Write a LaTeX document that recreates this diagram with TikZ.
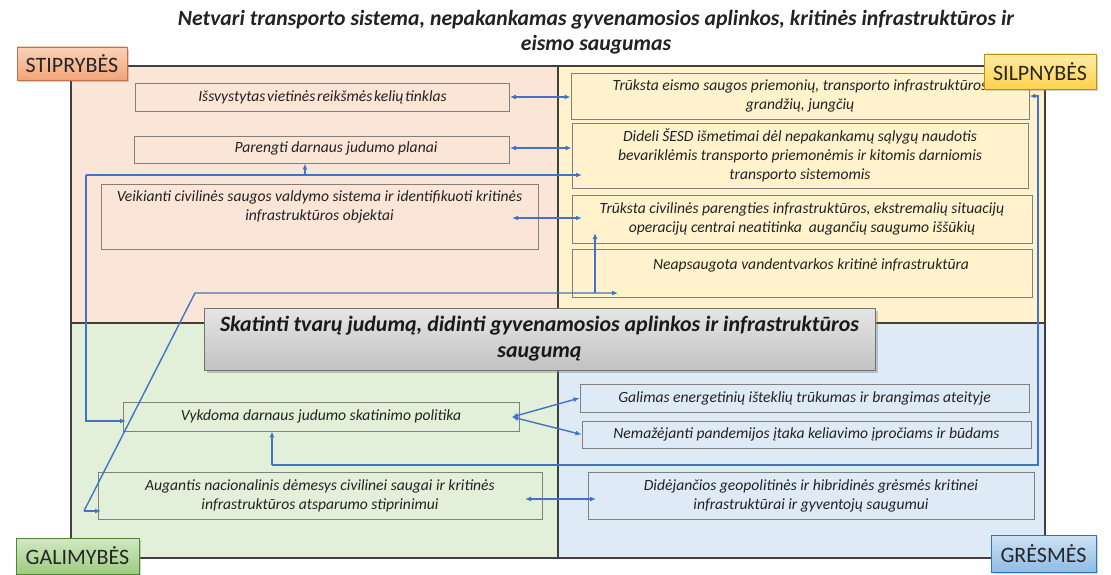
\documentclass[tikz,border=0pt]{standalone}
\usepackage{fontspec}
\setmainfont{Carlito}
\usetikzlibrary{arrows.meta,shadows,calc}
\definecolor{qTL}{HTML}{FBE5D6}
\definecolor{qTR}{HTML}{FFF2CC}
\definecolor{qBL}{HTML}{E2F0D9}
\definecolor{qBR}{HTML}{DEEBF7}
\definecolor{cblue}{HTML}{4472C4}
\definecolor{frm}{HTML}{404040}
\definecolor{boxln}{HTML}{808080}
\definecolor{txtc}{HTML}{222222}
\definecolor{sTop}{HTML}{FAD2B8}\definecolor{sBot}{HTML}{F2A477}\definecolor{sLn}{HTML}{C0704A}
\definecolor{wTop}{HTML}{FFEBA8}\definecolor{wBot}{HTML}{FFD24D}\definecolor{wLn}{HTML}{BF9000}
\definecolor{oTop}{HTML}{D2E8C4}\definecolor{oBot}{HTML}{9CCB7F}\definecolor{oLn}{HTML}{548235}
\definecolor{tTop}{HTML}{CDE2F4}\definecolor{tBot}{HTML}{8FBCE6}\definecolor{tLn}{HTML}{2E75B6}
\newcommand{\bfs}[1]{\fontsize{#1}{19}\selectfont}
\tikzset{
  bx/.style={draw=boxln, line width=0.9pt, rectangle, inner sep=0pt, align=center,
    font=\bfs{15.6}\itshape, text=txtc},
  btxt/.style={inner sep=0pt, align=center, font=\bfs{15.6}\itshape, text=txtc},
  cn/.style={draw=cblue, line width=1.4pt, -{Latex[length=6pt,width=5pt]}},
  cn2/.style={draw=cblue, line width=1.4pt, {Latex[length=6pt,width=5pt]}-{Latex[length=6pt,width=5pt]}},
  lbl/.style={rectangle, inner sep=0pt, line width=0.8pt, font=\fontsize{22}{24}\selectfont, text=black!85,
    drop shadow={shadow xshift=2pt, shadow yshift=-2pt, opacity=0.35}},
}
\begin{document}
\begin{tikzpicture}[x=1pt,y=-1pt]
\useasboundingbox (0,0) rectangle (1111,575);
% title
\node[align=center, font=\fontsize{21.7}{25}\selectfont\bfseries\itshape, text=txtc, inner sep=0pt] (title) at (596,32)
  {Netvari transporto sistema, nepakankamas gyvenamosios aplinkos, kritinės infrastruktūros ir\\ eismo saugumas};
% quadrants
\fill[qTL] (71,66) rectangle (558,323);
\fill[qTR] (558,66) rectangle (1045,323);
\fill[qBL] (71,323) rectangle (558,558);
\fill[qBR] (558,323) rectangle (1045,558);
\draw[frm, line width=1.1pt] (71,66) rectangle (1045,558);
\draw[frm, line width=1.1pt] (558,66) -- (558,558);
\draw[frm, line width=1.1pt] (71,323) -- (1045,323);
% strengths
\node[bx, minimum width=374pt, minimum height=28pt] (s1) at (322.5,97) {\spaceskip=1.8pt Išsvystytas vietinės reikšmės kelių tinklas};
\node[bx, minimum width=375pt, minimum height=27pt] (s2) at (321.5,149.5) {};
\node[btxt] (s2t) at (336,148) {Parengti darnaus judumo planai};
\node[bx, minimum width=437pt, minimum height=65pt] (s3) at (319.5,216.5) {};
\node[btxt] (s3t) at (319.5,207) {Veikianti civilinės saugos valdymo sistema ir identifikuoti kritinės\\ infrastruktūros objektai};
% weaknesses
\node[bx, minimum width=458pt, minimum height=46pt] (w1) at (800,96) {Trūksta eismo saugos priemonių, transporto infrastruktūros\\ grandžių, jungčių};
\node[bx, minimum width=456pt, minimum height=65pt] (w2) at (800,155.5) {Dideli ŠESD išmetimai dėl nepakankamų sąlygų naudotis\\ bevariklėmis transporto priemonėmis ir kitomis darniomis\\ transporto sistemomis};
\node[bx, minimum width=460pt, minimum height=48pt] (w3) at (802,219) {Trūksta civilinės parengties infrastruktūros, ekstremalių situacijų\\ operacijų centrai neatitinka\ \ augančių saugumo iššūkių};
\node[bx, minimum width=460pt, minimum height=48pt] (w4) at (802,273) {};
\node[btxt] (w4t) at (811,265) {Neapsaugota vandentvarkos kritinė infrastruktūra};
% opportunities
\node[bx, minimum width=396pt, minimum height=29pt] (o1) at (321,416.5) {Vykdoma darnaus judumo skatinimo politika};
\node[bx, minimum width=444pt, minimum height=47pt] (o2) at (320,495.5) {Augantis nacionalinis dėmesys civilinei saugai ir kritinės\\ infrastruktūros atsparumo stiprinimui};
% threats
\node[bx, minimum width=449pt, minimum height=28pt] (t1) at (804.5,398) {Galimas energetinių išteklių trūkumas ir brangimas ateityje};
\node[bx, minimum width=449pt, minimum height=27pt] (t2) at (806.5,434.5) {Nemažėjanti pandemijos įtaka keliavimo įpročiams ir būdams};
\node[bx, minimum width=446pt, minimum height=47pt] (t3) at (811,495.5) {Didėjančios geopolitinės ir hibridinės grėsmės kritinei\\ infrastruktūrai ir gyventojų saugumui};
% central goal
\node[rectangle, draw=black!55, line width=1pt, minimum width=671pt, minimum height=62pt, inner sep=0pt,
  top color=white!90!black, bottom color=black!24, align=center,
  font=\fontsize{21.9}{26}\selectfont\bfseries\itshape, text=black!90,
  drop shadow={shadow xshift=3pt, shadow yshift=-3pt, opacity=0.4}] (goal) at (539.5,339)
  {Skatinti tvarų judumą, didinti gyvenamosios aplinkos ir infrastruktūros\\ saugumą};
% connectors
\draw[cn2] (s1.east) -- (s1.east -| w1.west);
\coordinate (a2l) at (510,148);
\draw[cn2] (a2l) -- (a2l -| w2.west);
\coordinate (a3l) at (512,218);
\coordinate (a3r) at (582,218);
\draw[cn2] (a3l) -- (a3r);
% network A
\coordinate (jA) at (86,175);
\coordinate (jAs) at (305,175);
\coordinate (aA1) at (582,175);
\coordinate (aA2) at (126,421);
\draw[cn] (jA) -- (aA1);
\draw[cn] (jAs) -- (jAs |- s2.south);
\draw[cn] (jA) |- (aA2);
% network B
\coordinate (jB) at (84,511);
\coordinate (jB2) at (195,293);
\coordinate (aB1) at (618,293);
\coordinate (jB3) at (595,293);
\coordinate (aB2) at (595,233);
\coordinate (aB3) at (101,511);
\draw[cn] (jB) -- (aB3);
\draw[cn] (jB) -- (jB2) -- (aB1);
\draw[cn] (jB3) -- (aB2);
% network C
\coordinate (jC) at (272,465);
\coordinate (jC2) at (1038,465);
\draw[cn] (jC) -- (jC |- o1.south);
\draw[cn] (jC) -- (jC2) |- (w1.east);
% opportunities to threats
\coordinate (aO1) at (512,417);
\draw[cn2] (aO1) -- (t1.west);
\draw[cn2] (aO1) -- (t2.west);
\coordinate (aO2l) at (525,499);
\coordinate (aO2r) at (596,499);
\draw[cn2] (aO2l) -- (aO2r);
% labels
\node[lbl, draw=sLn, top color=sTop, bottom color=sBot,
  minimum width=110pt, minimum height=33pt] (lS) at (72,63.5) {STIPRYBĖS};
\node[lbl, draw=wLn, top color=wTop, bottom color=wBot,
  minimum width=112pt, minimum height=35pt] (lW) at (1040,71.5) {SILPNYBĖS};
\node[lbl, draw=oLn, top color=oTop, bottom color=oBot,
  minimum width=123pt, minimum height=36pt] (lO) at (77.5,556) {GALIMYBĖS};
\node[lbl, draw=tLn, top color=tTop, bottom color=tBot,
  minimum width=105pt, minimum height=37pt] (lT) at (1043.5,553.5) {GRĖSMĖS};
\end{tikzpicture}
\end{document}
